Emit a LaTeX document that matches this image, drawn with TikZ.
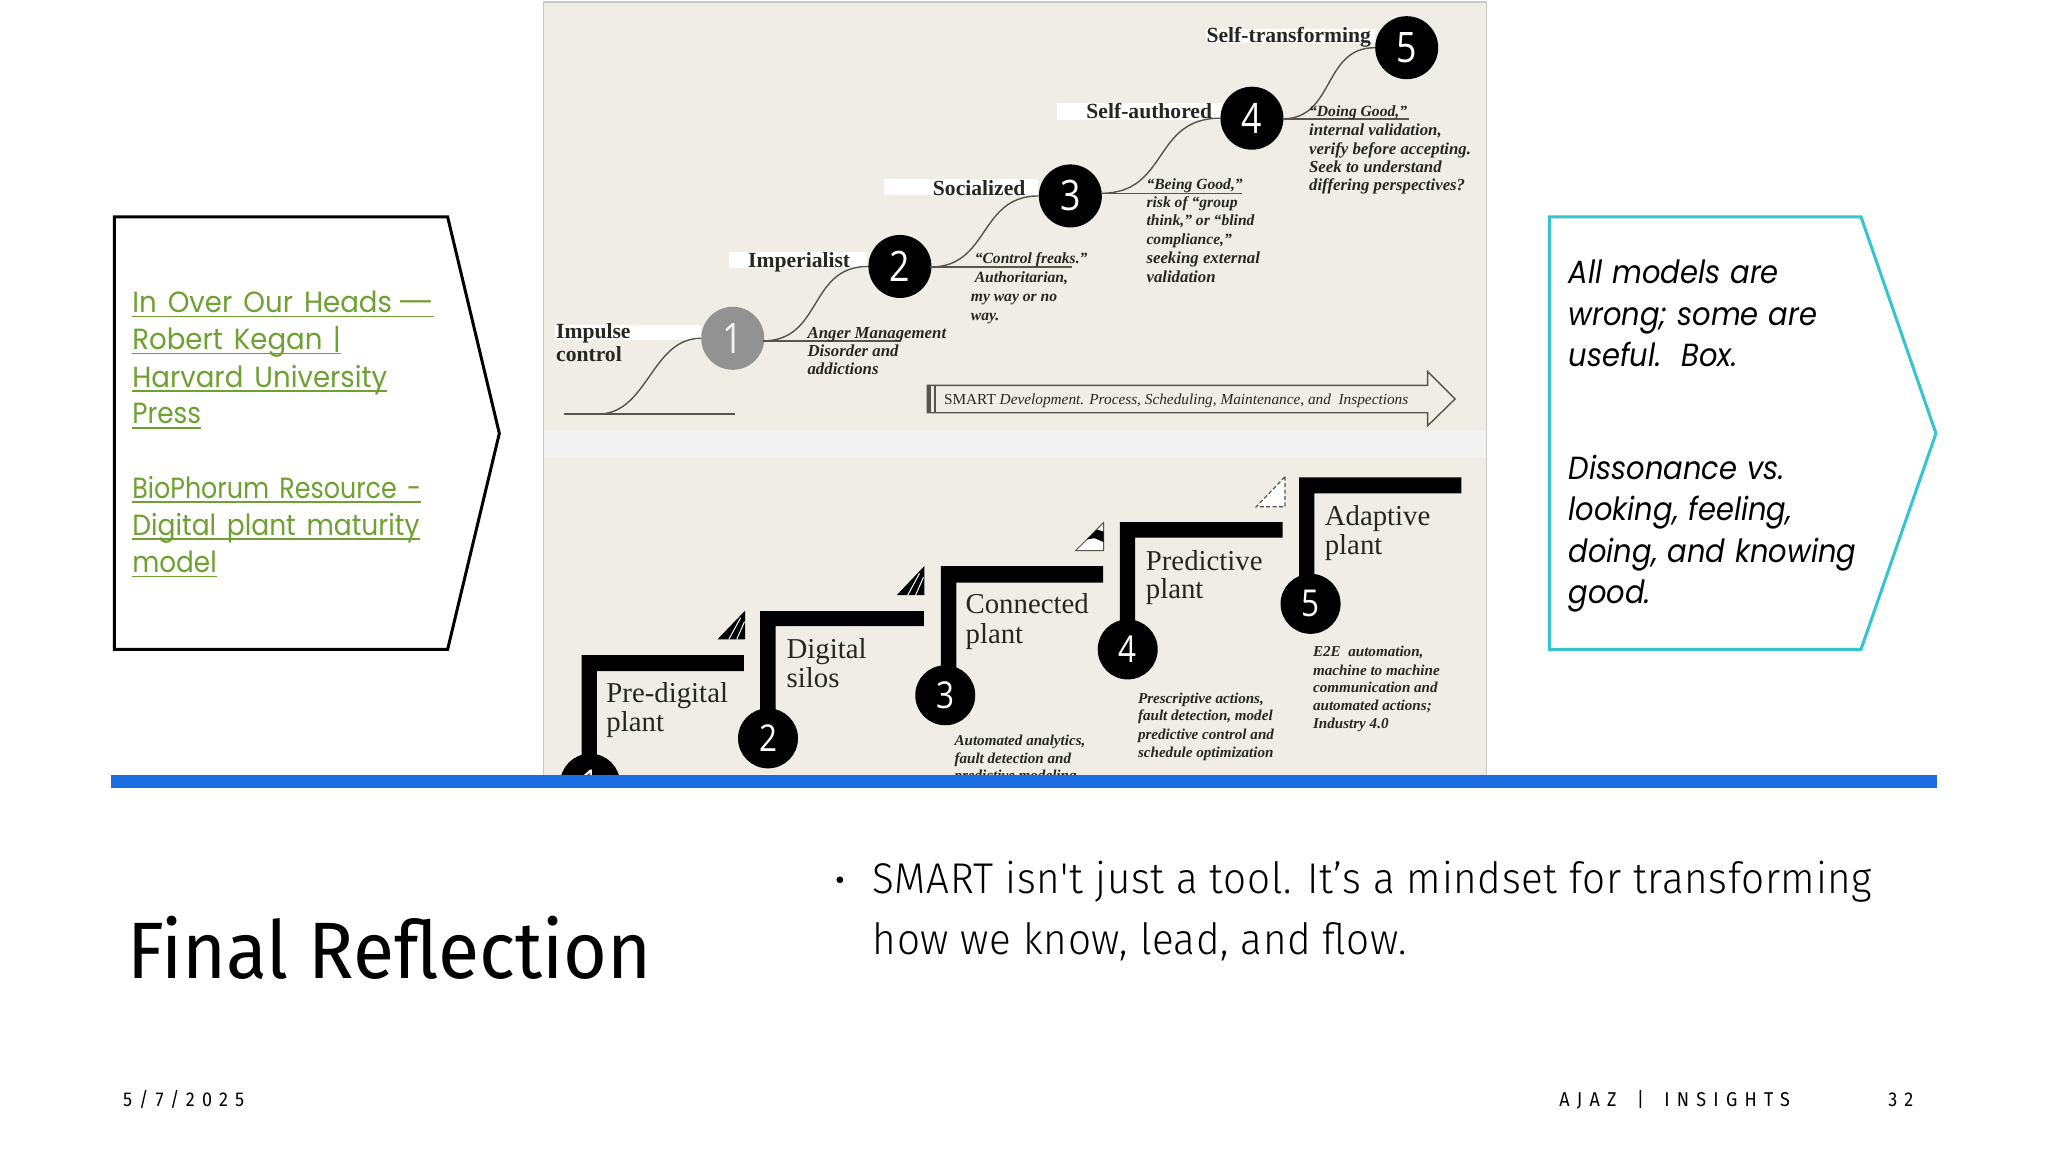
\documentclass[tikz,border=0pt]{standalone}
\usepackage{fontspec}
\usepackage{graphicx}
\setmainfont{Liberation Serif}
\newfontfamily\futu{Poppins}[FakeStretch=0.9,WordSpace=1.5]
\newfontfamily\futq{Poppins}[FakeStretch=0.905,WordSpace=1.15]
\newfontfamily\din{Fira Sans}[FakeStretch=0.94]
\newfontfamily\dinl{Fira Sans}[UprightFont=* Light,FakeStretch=0.94,LetterSpace=1.5]
\newfontfamily\foot{Fira Sans}[LetterSpace=36,FakeStretch=0.9,WordSpace=1.7]
\newfontfamily\digit{Open Sans}[FakeStretch=0.85]
\definecolor{panel}{HTML}{EFEDE6}
\definecolor{band}{HTML}{F2F2F2}
\definecolor{edge}{HTML}{C8C8C4}
\definecolor{linkg}{HTML}{6FA032}
\definecolor{teal}{HTML}{35C4D2}
\definecolor{barblue}{HTML}{1C6EE0}
\definecolor{ink}{HTML}{262622}
\definecolor{sline}{HTML}{55554C}
\newcommand\ulk[1]{\setbox0\hbox{#1}\rlap{\rule[-2.3pt]{\wd0}{0.8pt}}\box0}
\newcommand\hs[2]{\scalebox{#1}[1]{#2}}
\tikzset{
 txt/.style={inner sep=0pt,anchor=base west,text=ink},
 stage/.style={txt,font=\fontsize{10.8}{12}\selectfont\bfseries},
 note/.style={txt,font=\fontsize{8.4}{9}\selectfont\bfseries\itshape},
 noteq/.style={txt,font=\fontsize{7.8}{9}\selectfont\bfseries\itshape},
 notelow/.style={txt,font=\fontsize{7.55}{9}\selectfont\bfseries\itshape},
 plantlab/.style={txt,font=\fontsize{14.4}{15}\selectfont},
 bigdot/.style={circle,fill=black,text=white,inner sep=0pt,minimum size=31.5pt,font=\digit\fontsize{21}{22}\selectfont},
 smalldot/.style={circle,fill=black,text=white,inner sep=0pt,minimum size=30pt,font=\digit\fontsize{18.5}{20}\selectfont},
 curve/.style={draw=sline,line width=0.7pt},
 whiteband/.style={fill=white,draw=none},
 stairbar/.style={fill=black,draw=none},
 ref/.style={txt,text=linkg,font=\futu\fontsize{14.6}{18}\selectfont},
 quote/.style={txt,text=black,font=\futq\itshape\fontsize{16}{19}\selectfont},
 pent/.style={line width=1.5pt,line join=miter},
}
\begin{document}
\begin{tikzpicture}[x=0.65306pt,y=-0.65306pt]
\useasboundingbox (0,0) rectangle (1568,882);
\fill[white] (0,0) rectangle (1568,882);
% panel
\fill[panel] (416,1.5) rectangle (1138,594);
\fill[band] (416,329) rectangle (1138,351);
\draw[edge,line width=0.8pt] (416,594) -- (416,1.5) -- (1138,1.5) -- (1138,594);
% white bands behind stage labels
\fill[whiteband] (425,249) rectangle (537,260);
\fill[whiteband] (558,193) rectangle (664,205);
\fill[whiteband] (677,137) rectangle (795,149);
\fill[whiteband] (809,79) rectangle (936,92);
\fill[whiteband] (923,22) rectangle (1053,33);
% upper circles
\node[bigdot,fill=gray!90!white!95,text=white!90!gray] (c1) at (561,259) {1};
\node[bigdot] (c2) at (689,204) {2};
\node[bigdot] (c3) at (819.5,150) {3};
\node[bigdot] (c4) at (958.5,90.5) {4};
\node[bigdot] (c5) at (1077,36.5) {5};
% connectors
\coordinate (b0) at (432,317); \coordinate (b1) at (562.5,317); \coordinate (b2) at (458,317);
\coordinate (u1s) at (584,261); \coordinate (u1e) at (690,261);
\coordinate (u2s) at (712,204.5); \coordinate (u2e) at (821,204.5);
\coordinate (u3s) at (843,148); \coordinate (u3e) at (951,148);
\coordinate (u4s) at (982,91); \coordinate (u4e) at (1079,91);
\draw[curve] (b0) -- (b1);
\draw[curve] (u1s) -- (u1e);
\draw[curve] (u2s) -- (u2e);
\draw[curve] (u3s) -- (u3e);
\draw[curve] (u4s) -- (u4e);
\draw[curve] (b2) .. controls +(38,0) and +(-38,0) .. (c1.west);
\draw[curve] (u1s) .. controls +(46,0) and +(-46,0) .. (c2.west);
\draw[curve] (u2s) .. controls +(46,0) and +(-46,0) .. (c3.west);
\draw[curve] (u3s) .. controls +(52,0) and +(-52,0) .. (c4.west);
\draw[curve] (u4s) .. controls +(40,0) and +(-40,0) .. (c5.west);
% stage labels
\node[stage] (s1a) at (425.5,259) {Impulse};
\node[stage] (s1b) at (425.5,276.5) {control};
\node[stage] (s2) at (572.5,204.5) {Imperialist};
\node[stage] (s3) at (714,149.5) {Socialized};
\node[stage] (s4) at (831.5,90.5) {Self-authored};
\node[stage] (s5) at (923.5,32.5) {Self-transforming};
% notes
\node[note] (n1a) at (618,259) {Anger Management};
\node[note] (n1b) at (618,273) {Disorder and};
\node[note] (n1c) at (618,287) {addictions};
\node[noteq] (n2a) at (746,202) {“Control freaks.”};
\node[noteq] (n2b) at (746,216) {Authoritarian,};
\node[noteq] (n2c) at (743,230.5) {my way or no};
\node[noteq] (n2d) at (743,245) {way.};
\node[noteq] (n3a) at (877.5,145) {“Being Good,”};
\node[noteq] (n3b) at (877.5,159) {risk of “group};
\node[noteq] (n3c) at (877.5,173) {think,” or “blind};
\node[noteq] (n3d) at (877.5,187) {compliance,”};
\node[note] (n3e) at (877.5,202) {seeking external};
\node[note] (n3f) at (877.5,216) {validation};
\node[noteq] (n4a) at (1002,89.5) {“Doing Good,”};
\node[note] (n4b) at (1002,104) {internal validation,};
\node[note] (n4c) at (1002,118) {verify before accepting.};
\node[note] (n4d) at (1002,132) {Seek to understand};
\node[note] (n4e) at (1002,146) {differing perspectives?};
% long arrow
\draw[sline,fill=panel,line width=0.7pt] (710,295) -- (1093,295) -- (1093,284.5) -- (1114,305.5) -- (1093,326) -- (1093,316) -- (710,316) -- cycle;
\fill[sline] (710,295) rectangle (713,316);
\fill[sline] (715,295) rectangle (716.5,316);
\node[txt,font=\fontsize{7.65}{9}\selectfont] (arrowtext) at (722.5,309.5) {SMART \itshape Development. Process, Scheduling, Maintenance, and\ \ Inspections};
% lower staircase
\begin{scope}
\clip (416,330) rectangle (1138,594);
\node[smalldot] (d1) at (451.8,600) {1};
\node[smalldot] (d2) at (588,565.3) {2};
\node[smalldot] (d3) at (723.7,532.3) {3};
\node[smalldot] (d4) at (863.4,497.2) {4};
\node[smalldot] (d5) at (1003.4,462.3) {5};
\fill[stairbar] (445.3,501.5) -| (569.5,513.8) -| (457,585) -| cycle;
\fill[stairbar] (582,467.8) -| (707.3,479.3) -| (593.8,550) -| cycle;
\fill[stairbar] (720.4,433.4) -| (844.6,446.1) -| (732.2,517) -| cycle;
\fill[stairbar] (857.3,399.7) -| (982,411.7) -| (869,482) -| cycle;
\fill[stairbar] (994.6,365.5) -| (1118.8,377.7) -| (1006.3,447) -| cycle;
% small triangles
\fill[black] (570.4,467.6) -- (570.4,489.5) -- (549.3,489.5) -- cycle;
\draw[white,line width=0.5pt] (564,489.5) -- (570,476) (558,489.5) -- (567,473);
\fill[black] (707.7,433.4) -- (707.7,455.6) -- (686.6,455.6) -- cycle;
\draw[white,line width=0.5pt] (701,455.6) -- (707,442) (695,455.6) -- (704,439);
\draw[sline,fill=white,line width=0.5pt] (845,400) -- (845,421.6) -- (823.5,421.6) -- cycle;
\fill[black] (832,413) -- (840,405.5) -- (845,407) -- (845,415) -- (838,412) -- cycle;
\draw[sline,fill=white,line width=0.6pt,dash pattern=on 2pt off 1.2pt] (983.8,365) -- (983.8,388) -- (961.8,388) -- cycle;
% lower labels
\node[plantlab] (p1a) at (464,537.5) {Pre-digital};
\node[plantlab] (p1b) at (464,560) {plant};
\node[plantlab] (p2a) at (602,504) {Digital};
\node[plantlab] (p2b) at (602,526.5) {silos};
\node[plantlab] (p3a) at (739,470) {Connected};
\node[plantlab] (p3b) at (739,492.5) {plant};
\node[plantlab] (p4a) at (877,436.5) {Predictive};
\node[plantlab] (p4b) at (877,458.5) {plant};
\node[plantlab] (p5a) at (1014,402.5) {Adaptive};
\node[plantlab] (p5b) at (1014,424.5) {plant};
% lower notes
\node[notelow] (m3a) at (730.5,571) {Automated analytics,};
\node[notelow] (m3b) at (730.5,584.5) {fault detection and};
\node[notelow] (m3c) at (730.5,597.5) {predictive modeling};
\node[notelow] (m4a) at (871,538.5) {Prescriptive actions,};
\node[notelow] (m4b) at (871,552) {fault detection, model};
\node[notelow] (m4c) at (871,566) {predictive control and};
\node[notelow] (m4d) at (871,580) {schedule optimization};
\node[notelow] (m5a) at (1005,503) {E2E\ \ automation,};
\node[notelow] (m5b) at (1005,517) {machine to machine};
\node[notelow] (m5c) at (1005,530.5) {communication and};
\node[notelow] (m5d) at (1005,544) {automated actions;};
\node[notelow] (m5e) at (1005,558) {Industry 4.0};
\end{scope}
% blue rule
\fill[barblue] (85,593.4) rectangle (1483,603);
% left pentagon
\draw[pent,draw=black] (87.5,166) -- (342.7,166) -- (382.3,331.8) -- (342.7,497.2) -- (87.5,497.2) -- cycle;
\node[ref] (r1) at (101,239.4) {\ulk{\hs{1.05}{In Over Our Heads}\,\hs{1.6}{—}}};
\node[ref] (r2) at (101,267.7) {\ulk{\hs{1.05}{Robert Kegan} |}};
\node[ref] (r3) at (101,296.3) {\ulk{\hs{1.05}{Harvard University}}};
\node[ref] (r4) at (101,324.6) {\ulk{Press}};
\node[ref] (r5) at (101,381.5) {\ulk{\hs{0.965}{BioPhorum Resource -}}};
\node[ref] (r6) at (101,409.6) {\ulk{\hs{1.01}{Digital plant maturity}}};
\node[ref] (r7) at (101,438.4) {\ulk{model}};
% right pentagon
\draw[pent,draw=teal] (1186.2,166) -- (1424.8,166) -- (1482.2,331.8) -- (1424.8,497.2) -- (1186.2,497.2) -- cycle;
\node[quote] (q1) at (1200.7,217) {All models are};
\node[quote] (q2) at (1200.7,249.5) {wrong; some are};
\node[quote] (q3) at (1200.7,280.7) {useful.\ \ Box.};
\node[quote] (q4) at (1200.7,367) {Dissonance vs.};
\node[quote] (q5) at (1200.7,398.4) {looking, feeling,};
\node[quote] (q6) at (1200.7,430.3) {doing, and knowing};
\node[quote] (q7) at (1200.7,462.2) {good.};
% title and body
\node[txt,text=black,font=\din\fontsize{40}{44}\selectfont] (title) at (97,749) {Final Reflection};
\fill[black] (643,673.6) circle (2.6);
\node[txt,text=black,font=\dinl\fontsize{21.5}{26}\selectfont] (b1) at (668,683.7) {SMART isn't just a tool. It’s a mindset for transforming};
\node[txt,text=black,font=\dinl\fontsize{21.5}{26}\selectfont] (b2) at (668,731) {how we know, lead, and flow.};
% footer
\node[txt,text=black,font=\foot\fontsize{10}{12}\selectfont] (f1) at (94,847) {5/7/2025};
\node[txt,text=black,font=\foot\fontsize{10}{12}\selectfont] (f2) at (1193.6,847) {AJAZ | INSIGHTS};
\node[txt,text=black,font=\foot\fontsize{10}{12}\selectfont] (f3) at (1445.4,847) {32};
\end{tikzpicture}
\end{document}
